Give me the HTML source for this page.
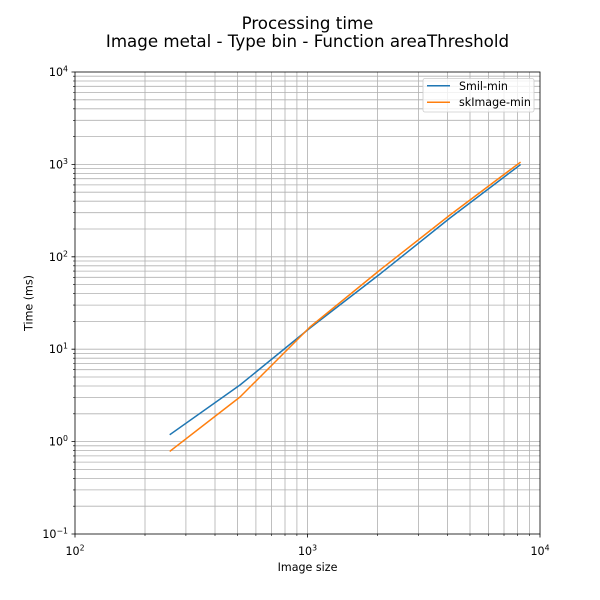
<!DOCTYPE html>
<html><head><meta charset="utf-8"><style>
html,body{margin:0;padding:0;background:#fff;}
svg{display:block;font-family:"DejaVu Sans","Liberation Sans",sans-serif;}
</style></head><body>
<svg width="600" height="600" viewBox="0 0 600 600" xmlns="http://www.w3.org/2000/svg">
<rect width="600" height="600" fill="#fff"/>
<text x="307.5" y="29" font-size="16.67" text-anchor="middle" fill="#000">Processing time</text>
<text x="307.5" y="47" font-size="16.67" text-anchor="middle" fill="#000">Image metal - Type bin - Function areaThreshold</text>
<g stroke="#b0b0b0" stroke-width="0.8" fill="none">
<path d="M145 72V534M185.9 72V534M215 72V534M237.5 72V534M255.9 72V534M271.5 72V534M285 72V534M296.9 72V534M307.5 72V534M377.5 72V534M418.4 72V534M447.5 72V534M470 72V534M488.4 72V534M504 72V534M517.5 72V534M529.4 72V534"/>
<path d="M75 506.2H540M75 489.9H540M75 478.4H540M75 469.4H540M75 462.1H540M75 455.9H540M75 450.6H540M75 445.8H540M75 441.6H540
M75 413.8H540M75 397.5H540M75 386H540M75 377H540M75 369.7H540M75 363.5H540M75 358.2H540M75 353.4H540M75 349.2H540
M75 321.4H540M75 305.1H540M75 293.6H540M75 284.6H540M75 277.3H540M75 271.1H540M75 265.8H540M75 261H540M75 256.8H540
M75 229H540M75 212.7H540M75 201.2H540M75 192.2H540M75 184.9H540M75 178.7H540M75 173.4H540M75 168.6H540M75 164.4H540
M75 136.6H540M75 120.3H540M75 108.8H540M75 99.8H540M75 92.5H540M75 86.3H540M75 81H540M75 76.2H540"/>
</g>
<polyline points="170.3,434.3 240,385 310,328 380,274 450,218 520,165" fill="none" stroke="#1f77b4" stroke-width="1.5" stroke-linejoin="round" stroke-linecap="square"/>
<polyline points="170.3,451 240,397 310,327 380,270 450,215 520,162.5" fill="none" stroke="#ff7f0e" stroke-width="1.5" stroke-linejoin="round" stroke-linecap="square"/>
<rect x="75" y="72" width="465" height="462" fill="none" stroke="#000" stroke-width="0.8"/>
<g stroke="#000" stroke-width="0.8">
<path d="M75 534v3.5M307.5 534v3.5M540 534v3.5M75 534h-3.5M75 441.6h-3.5M75 349.2h-3.5M75 256.8h-3.5M75 164.4h-3.5M75 72h-3.5"/>
</g>
<g stroke="#000" stroke-width="0.6">
<path d="M145 534v2M185.9 534v2M215 534v2M237.5 534v2M255.9 534v2M271.5 534v2M285 534v2M296.9 534v2M377.5 534v2M418.4 534v2M447.5 534v2M470 534v2M488.4 534v2M504 534v2M517.5 534v2M529.4 534v2
M75 506.2h-2M75 489.9h-2M75 478.4h-2M75 469.4h-2M75 462.1h-2M75 455.9h-2M75 450.6h-2M75 445.8h-2
M75 413.8h-2M75 397.5h-2M75 386h-2M75 377h-2M75 369.7h-2M75 363.5h-2M75 358.2h-2M75 353.4h-2
M75 321.4h-2M75 305.1h-2M75 293.6h-2M75 284.6h-2M75 277.3h-2M75 271.1h-2M75 265.8h-2M75 261h-2
M75 229h-2M75 212.7h-2M75 201.2h-2M75 192.2h-2M75 184.9h-2M75 178.7h-2M75 173.4h-2M75 168.6h-2
M75 136.6h-2M75 120.3h-2M75 108.8h-2M75 99.8h-2M75 92.5h-2M75 86.3h-2M75 81h-2M75 76.2h-2"/>
</g>
<g font-size="11.1" fill="#000">
<text x="75" y="555" text-anchor="middle">10<tspan font-size="7.8" dy="-4.5">2</tspan></text>
<text x="307.5" y="555" text-anchor="middle">10<tspan font-size="7.8" dy="-4.5">3</tspan></text>
<text x="540" y="555" text-anchor="middle">10<tspan font-size="7.8" dy="-4.5">4</tspan></text>
<text x="68" y="538" text-anchor="end">10<tspan font-size="7.8" dy="-4.5">−1</tspan></text>
<text x="68" y="445.6" text-anchor="end">10<tspan font-size="7.8" dy="-4.5">0</tspan></text>
<text x="68" y="353.2" text-anchor="end">10<tspan font-size="7.8" dy="-4.5">1</tspan></text>
<text x="68" y="260.8" text-anchor="end">10<tspan font-size="7.8" dy="-4.5">2</tspan></text>
<text x="68" y="168.4" text-anchor="end">10<tspan font-size="7.8" dy="-4.5">3</tspan></text>
<text x="68" y="76" text-anchor="end">10<tspan font-size="7.8" dy="-4.5">4</tspan></text>
<text x="307.5" y="571" text-anchor="middle">Image size</text>
<text x="0" y="0" text-anchor="middle" transform="translate(32.3 303) rotate(-90)">Time (ms)</text>
</g>
<rect x="423" y="78.5" width="111" height="33.5" rx="2" fill="#fff" fill-opacity="0.8" stroke="#cccccc" stroke-width="0.8"/>
<line x1="427" y1="85.8" x2="450" y2="85.8" stroke="#1f77b4" stroke-width="1.5"/>
<line x1="427" y1="102.3" x2="450" y2="102.3" stroke="#ff7f0e" stroke-width="1.5"/>
<g font-size="11.1" fill="#000">
<text x="459" y="89.8">Smil-min</text>
<text x="459" y="106.2">skImage-min</text>
</g>
</svg>
</body></html>
